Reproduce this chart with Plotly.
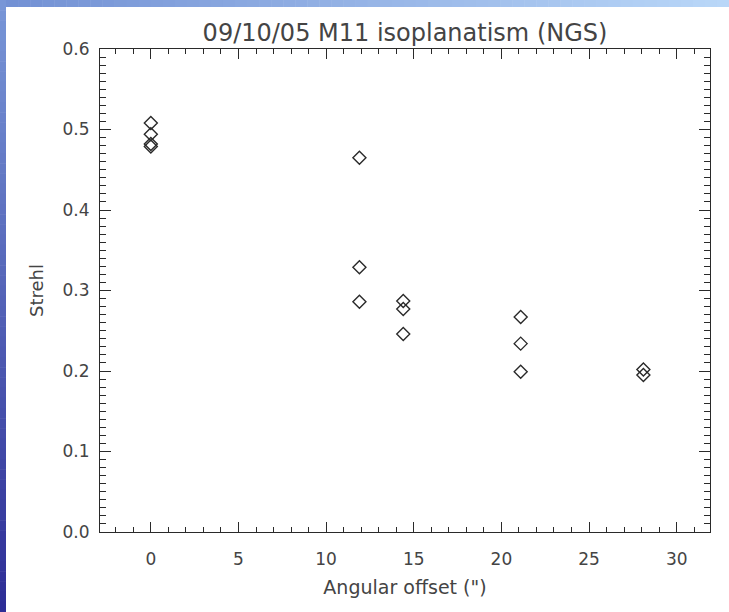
import plotly.graph_objects as go

# Angular offset from the guide star (arcsec) and measured Strehl ratio
offset_arcsec = [0.0, 0.0, 0.0, 0.0,
                 11.9, 11.9, 11.9,
                 14.4, 14.4, 14.4,
                 21.1, 21.1, 21.1,
                 28.1, 28.1]
strehl = [0.508, 0.494, 0.482, 0.479,
          0.465, 0.329, 0.286,
          0.287, 0.277, 0.246,
          0.267, 0.234, 0.199,
          0.202, 0.195]

title_text = "09/10/05 M11 isoplanatism (NGS)"
x_title = "Angular offset (\")"
y_title = "Strehl"

W, H = 729, 612
ML, MR, MT, MB = 100, 19, 49, 80
PW, PH = W - ML - MR, H - MT - MB

ink = "#2a2a2a"
text_col = "#444444"
font_family = "DejaVu Sans, sans-serif"

fig = go.Figure()
fig.add_trace(go.Scatter(
    x=offset_arcsec, y=strehl, mode="markers",
    marker=dict(symbol="diamond-open", size=10, color=ink,
                line=dict(width=1.4, color=ink)),
    showlegend=False, hoverinfo="x+y",
))


def px_to_paper_x(px):
    return (px - ML) / PW


def px_to_paper_y(py):
    return (H - MB - py) / PH


def lerp(c0, c1, t):
    return "rgb(%d,%d,%d)" % tuple(round(a + (b - a) * t) for a, b in zip(c0, c1))


shapes = []
# blue gradient frame: a strip down the left edge and one along the top
n = 60
left_top, left_bot = (120, 150, 215), (45, 45, 150)
for i in range(n):
    y0 = H * i / n
    y1 = H * (i + 1) / n + 0.5
    shapes.append(dict(type="rect", xref="paper", yref="paper",
                       x0=px_to_paper_x(0), x1=px_to_paper_x(6),
                       y0=px_to_paper_y(y1), y1=px_to_paper_y(y0),
                       fillcolor=lerp(left_top, left_bot, i / (n - 1)),
                       line=dict(width=0), layer="below"))
top_left, top_right = (115, 145, 212), (185, 215, 248)
for i in range(n):
    x0 = 6 + (W - 6) * i / n
    x1 = 6 + (W - 6) * (i + 1) / n + 0.5
    shapes.append(dict(type="rect", xref="paper", yref="paper",
                       x0=px_to_paper_x(x0), x1=px_to_paper_x(x1),
                       y0=px_to_paper_y(7), y1=px_to_paper_y(0),
                       fillcolor=lerp(top_left, top_right, i / (n - 1)),
                       line=dict(width=0), layer="below"))

axis_common = dict(
    showline=True, linecolor=ink, linewidth=1, mirror="ticks",
    ticks="inside", tickcolor=ink, tickwidth=1,
    showgrid=False, zeroline=False,
    tickfont=dict(family=font_family, size=17, color=text_col),
)

fig.update_layout(
    width=W, height=H,
    margin=dict(l=ML, r=MR, t=MT, b=MB, pad=0),
    paper_bgcolor="white", plot_bgcolor="white",
    title=dict(text=title_text, x=(ML + PW / 2) / W, xanchor="center",
               y=1 - 33 / H, yanchor="middle",
               font=dict(family=font_family, size=24, color=text_col)),
    xaxis=dict(range=[-2.9, 31.9], tickmode="linear", tick0=0, dtick=5,
               ticklen=10, ticklabelstandoff=12,
               minor=dict(ticks="inside", dtick=1, ticklen=5, tickcolor=ink),
               title=dict(text=x_title, standoff=12,
                          font=dict(family=font_family, size=19, color=text_col)),
               **axis_common),
    yaxis=dict(range=[0, 0.6], tickmode="linear", tick0=0, dtick=0.1,
               tickformat=".1f", ticklen=11, ticklabelstandoff=6,
               minor=dict(ticks="inside", dtick=0.01, ticklen=6, tickcolor=ink),
               title=dict(text=y_title, standoff=14,
                          font=dict(family=font_family, size=18, color=text_col)),
               **axis_common),
    shapes=shapes,
)

fig.write_html("out.html")
